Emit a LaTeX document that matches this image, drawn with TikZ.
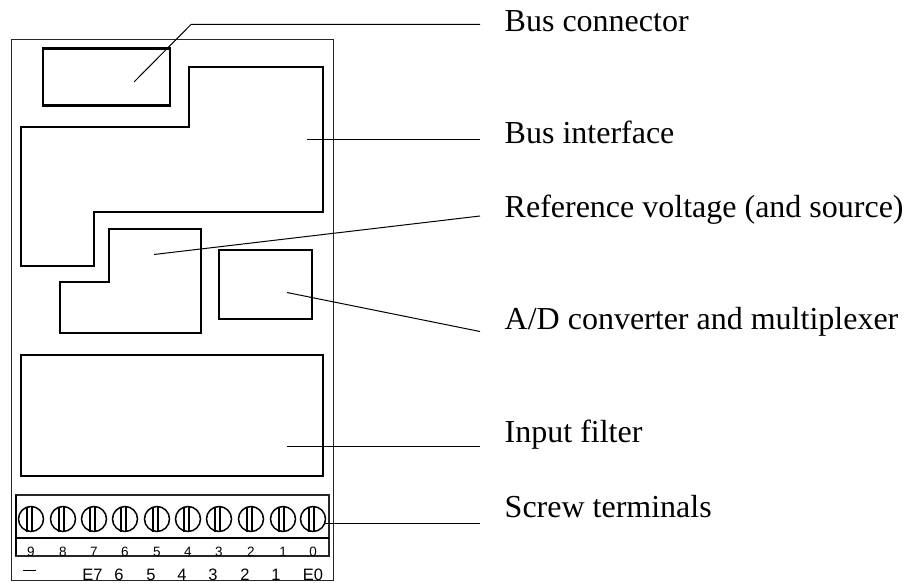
\documentclass[tikz,border=0pt]{standalone}
\usepackage{fontspec}
\setmainfont{Liberation Serif}
\newfontfamily\digitfont{Liberation Sans}
\tikzset{
  thinline/.style={line width=1pt,black!85},
  stripline/.style={line width=1.3pt,black!85},
  thickline/.style={line width=2.5pt,black,line join=miter},
  leader/.style={line width=1pt,black},
  lab/.style={anchor=base west,inner sep=0pt,font=\fontsize{32}{36}\selectfont},
  smalld/.style={anchor=base,inner sep=0pt,font=\digitfont\fontsize{13.5}{15}\selectfont},
  larged/.style={anchor=base,inner sep=0pt,font=\digitfont\fontsize{16.5}{19}\selectfont},
}
\begin{document}
\begin{tikzpicture}[x=1pt,y=-1pt]
\useasboundingbox (0,0) rectangle (912,583);
\fill[white] (0,0) rectangle (912,583);
\draw[thinline] (11.5,39.5) rectangle (333,580);
\draw[thickline] (43,48.5) rectangle (170,105.5);
\draw[thickline] (189,67) -- (323,67) -- (323,212) -- (94,212) -- (94,266) -- (21,266) -- (21,127) -- (189,127) -- cycle;
\draw[thickline] (109,229) -- (201,229) -- (201,333) -- (60,333) -- (60,282) -- (109,282) -- cycle;
\draw[thickline] (219,250) rectangle (312,319);
\draw[thickline] (21,355) rectangle (323,476);
\draw[stripline] (16,495) rectangle (329,556);
\draw[thickline] (16,495) -- (16,556);
\draw[thickline] (16,538) -- (329,538);
\foreach \n/\x/\d in {a/31/9,b/63/8,c/94/7,d/125/6,e/157/5,f/188/4,g/219/3,h/251/2,i/283/1,j/313/0}{
  \draw[line width=1.5pt] (\x,519) circle (12.5);
  \draw[line width=1.5pt] (\x-4,506.5) -- (\x-4,531.5);
  \draw[line width=2.5pt] (\x+1,506.5) -- (\x+1,531.5);
  \node[smalld] (d\n) at (\x,556) {\d};
}
\coordinate (t0) at (325,523.5);
\node[larged] (e7) at (92.5,580) {E7};
\node[larged] (e6) at (119,580) {6};
\node[larged] (e5) at (151,580) {5};
\node[larged] (e4) at (182,580) {4};
\node[larged] (e3) at (213,580) {3};
\node[larged] (e2) at (245,580) {2};
\node[larged] (e1) at (276,580) {1};
\node[larged] (e0) at (313,580) {E0};
\coordinate (m1) at (23,570.5); \coordinate (m2) at (36,570.5);
\draw[line width=1.3pt] (m1) -- (m2);
\node[lab] (l1) at (504.5,32) {Bus connector};
\node[lab] (l2) at (504.5,143) {Bus interface};
\node[lab] (l3) at (504.5,217) {Reference voltage (and source)};
\node[lab] (l4) at (504.5,329) {A/D converter and multiplexer};
\node[lab] (l5) at (504.5,442) {Input filter};
\node[lab] (l6) at (504.5,517) {Screw terminals};
\coordinate (a1) at (134,82); \coordinate (a1b) at (191,24.5); \coordinate (b1) at (480,24.5);
\draw[leader] (a1) -- (a1b) -- (b1);
\coordinate (a2) at (307,139.5); \coordinate (b2) at (480,139.5);
\draw[leader] (a2) -- (b2);
\coordinate (a3) at (154,254.5); \coordinate (b3) at (480,216);
\draw[leader] (a3) -- (b3);
\coordinate (a4) at (287,292.5); \coordinate (b4) at (480,331.5);
\draw[leader] (a4) -- (b4);
\coordinate (a5) at (287,446.5); \coordinate (b5) at (480,446.5);
\draw[leader] (a5) -- (b5);
\coordinate (b6) at (480,523.5);
\draw[leader] (t0) -- (b6);
\end{tikzpicture}
\end{document}
